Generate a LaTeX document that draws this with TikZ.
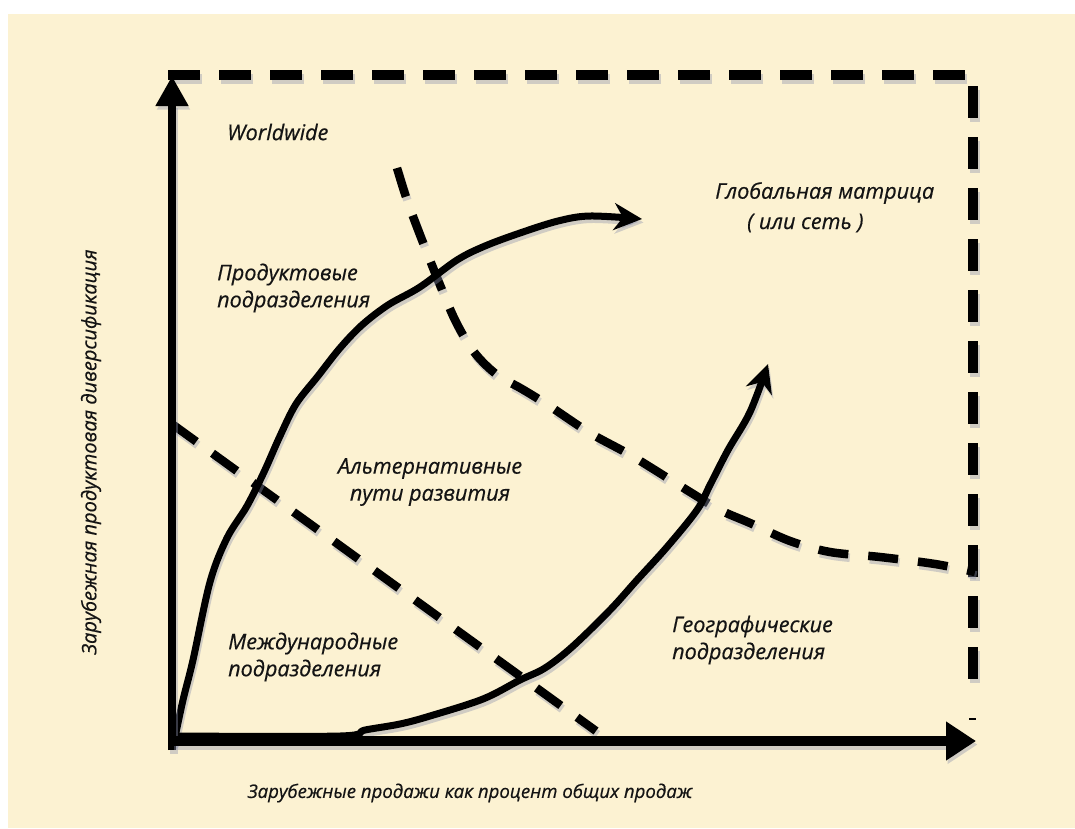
\documentclass[tikz,border=0pt]{standalone}
\usepackage{fontspec}
\setmainfont{Open Sans}
\newfontfamily\lblfont{Open Sans}[FakeBold=0.5]
\usetikzlibrary{arrows.meta}
\definecolor{paper}{HTML}{FCF2D2}
\definecolor{shade}{HTML}{8E93AE}
% draw a path twice: a soft offset shadow first, then the stroke itself
\newcommand\shadowdraw[2]{%
  \draw[#1, draw=shade, opacity=0.4, transform canvas={xshift=1.5pt,yshift=-3.5pt}] #2;
  \draw[#1] #2;}
\begin{document}
\begin{tikzpicture}[x=1pt,y=-1pt,
  lbl/.style={font=\lblfont\fontsize{21.6}{27}\selectfont\itshape, inner sep=0pt, text=black!92},
  axisline/.style={draw=black, line width=#1},
  curve/.style={draw=black, line width=7pt, line join=round, line cap=round},
  dashcurve/.style={draw=black, line width=8.5pt, dash pattern=on 30pt off 20pt},
  axistip/.style={-{Triangle[length=30pt,width=#1]}},
  curvetip/.style={-{Stealth[length=28pt,width=27pt,inset=9pt]}},
]
% page and paper
\useasboundingbox (0,0) rectangle (1075,828);
\fill[white] (0,0) rectangle (1075,828);
\fill[paper] (8,14) rectangle (1075,828);

% key points of the frame
\coordinate (O) at (172,741);
\coordinate (ytip) at (172,76);
\coordinate (xtip) at (976,741);
\coordinate (ystub) at (172,750);
\coordinate (tl) at (168,75);
\coordinate (tr) at (973,75);
\coordinate (br) at (973,695);
\coordinate (mark1) at (969,719);
\coordinate (mark2) at (976,719);

% outer dashed boundary
\shadowdraw{dashcurve, line width=10pt, dash pattern=on 32pt off 19pt, line join=miter}{(tl) -- (tr) -- (br)}
\draw[shade, line width=1.5pt] (mark1) -- (mark2);

% diagonal dashed divider
\coordinate (d1) at (172,424);
\coordinate (d2) at (596,731);
\shadowdraw{dashcurve}{(d1) -- (d2)}

% upper dashed divider
\shadowdraw{dashcurve}{plot[smooth, tension=0.55] coordinates {(397,168) (407,200) (422,240) (440,285) (456,322) (474,352) (496,374) (522,389) (548,405) (590,433) (632,456) (690,492) (720,510) (750,523) (790,541) (830,552) (880,557) (935,564) (975,572)}}

% product divisions path
\shadowdraw{curve, curvetip}{plot[smooth, tension=0.55] coordinates {(174,742) (183,700) (193,660) (210,582) (227,538) (247,506) (264,472) (280,436) (296,404) (318,376) (340,348) (362,325) (388,305) (420,287) (457,260) (485,246) (520,233) (558,221) (590,216) (642,219)}}

% geographic divisions path
\shadowdraw{curve, curvetip}{plot[smooth, tension=0.55] coordinates {(176,736) (340,736) (365,730) (400,724) (430,716) (483,699) (520,680) (545,668) (572,647) (610,610) (637,580) (667,547) (697,510) (710,485) (728,450) (750,412) (768,364)}}

% axes
\shadowdraw{axisline=8pt, axistip=31pt}{(ystub) -- (ytip)}
\shadowdraw{axisline=10pt, axistip=37pt}{(O) -- (xtip)}

% labels
\node[lbl, anchor=west] (ww) at (227,132) {Worldwide};
\node[lbl, anchor=west] (gm1) at (715,193) {Глобальная матрица};
\node[lbl, anchor=west] (gm2) at (747,223) {( или сеть )};
\node[lbl, anchor=west, align=left] (prod) at (217,288) {Продуктовые\\подразделения};
\node[lbl, align=center] (alt) at (430,482) {Альтернативные\\пути развития};
\node[lbl, anchor=west, align=left] (intl) at (228,657) {Международные\\подразделения};
\node[lbl, anchor=west, align=left] (geo) at (672,640) {Географические\\подразделения};
\node[lbl, font=\lblfont\fontsize{18.6}{24}\selectfont\itshape] (xlab) at (470,793) {Зарубежные продажи как процент общих продаж};
\node[lbl, font=\lblfont\fontsize{20}{24}\selectfont\itshape, rotate=90] (ylab) at (91,452) {Зарубежная продуктовая диверсификация};
\end{tikzpicture}
\end{document}
